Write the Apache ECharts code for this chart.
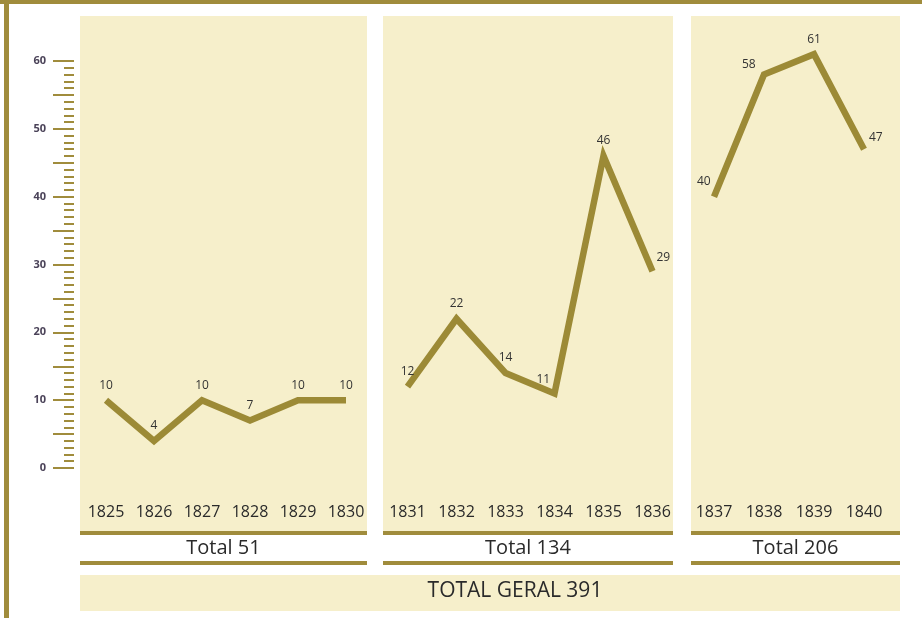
<!DOCTYPE html>
<html><head><meta charset="utf-8">
<script src="https://cdn.jsdelivr.net/npm/echarts@6/dist/echarts.min.js"></script>
<style>html,body{margin:0;padding:0;background:#fff}#c{width:922px;height:618px}</style>
</head><body><div id="c"></div>
<script>
// ---- data ----
const years1 = ['1825','1826','1827','1828','1829','1830'];
const values1 = [10, 4, 10, 7, 10, 10];
const years2 = ['1831','1832','1833','1834','1835','1836'];
const values2 = [12, 22, 14, 11, 46, 29];
const years3 = ['1837','1838','1839','1840'];
const values3 = [40, 58, 61, 47];
const yTicks = [0, 10, 20, 30, 40, 50, 60];

const sum = a => a.reduce((s, v) => s + v, 0);
const t1 = sum(values1), t2 = sum(values2), t3 = sum(values3);

const GOLD = '#a08c3c';
const LINE = '#9c8a36';
const PANEL = '#f6efcb';
const TXT = '#2a2a2a';
const FONT = '"Open Sans",sans-serif';

const panels = [
  {x: 80, w: 287},
  {x: 383, w: 290},
  {x: 691, w: 209}
];
const grids = [
  {left: 82, width: 288},
  {left: 383, width: 294},
  {left: 689, width: 200}
];

// label placement tweaks (style only): null = above the point
const labelPlace = [
  [null, null, null, null, null, null],
  [null, null, null, [-17, -19], null, [5, -19]],
  [[-16, -20], [-21, -15], null, [6, -17]]
];

function mkData(vals, k) {
  return vals.map((v, i) => {
    const p = labelPlace[k][i];
    return p ? {value: v, label: {position: p}} : {value: v};
  });
}

const chart = echarts.init(document.getElementById('c'), null, {renderer: 'canvas'});

const graphic = [];
graphic.push({type: 'rect', shape: {x: 0, y: 0, width: 922, height: 4}, style: {fill: GOLD}, z: 0});
graphic.push({type: 'rect', shape: {x: 4, y: 0, width: 5, height: 618}, style: {fill: GOLD}, z: 0});
panels.forEach(p => {
  graphic.push({type: 'rect', shape: {x: p.x, y: 16, width: p.w, height: 515}, style: {fill: PANEL}, z: -1});
  graphic.push({type: 'rect', shape: {x: p.x, y: 531, width: p.w, height: 4}, style: {fill: GOLD}, z: 0});
  graphic.push({type: 'rect', shape: {x: p.x, y: 561, width: p.w, height: 4}, style: {fill: GOLD}, z: 0});
});
graphic.push({type: 'rect', shape: {x: 80, y: 575, width: 820, height: 36}, style: {fill: PANEL}, z: -1});
const totals = [t1, t2, t3];
panels.forEach((p, i) => {
  graphic.push({type: 'text', x: p.x + p.w / 2, y: 548, style: {text: 'Total ' + totals[i], font: '20px "Open Sans",sans-serif', fill: TXT, textAlign: 'center', textVerticalAlign: 'middle'}, z: 5});
});
graphic.push({type: 'text', x: 515, y: 591, style: {text: 'TOTAL GERAL ' + (t1 + t2 + t3), font: '21px "Open Sans",sans-serif', fill: TXT, textAlign: 'center', textVerticalAlign: 'middle'}, z: 5});

const gridOpts = grids.map(g => ({left: g.left, width: g.width, top: 61, height: 407}));

const xAxes = [years1, years2, years3].map((cats, i) => ({
  type: 'category', gridIndex: i, data: cats, boundaryGap: true,
  axisLine: {show: false}, axisTick: {show: false}, splitLine: {show: false},
  axisLabel: {margin: 36, fontSize: 16, color: TXT, fontFamily: FONT, interval: 0}
}));

const yAxes = [
  {
    type: 'value', gridIndex: 0, min: yTicks[0], max: yTicks[yTicks.length - 1], interval: yTicks[1] - yTicks[0],
    position: 'left', offset: 8,
    axisLine: {show: false},
    axisTick: {show: true, length: 21, lineStyle: {color: GOLD, width: 2}},
    minorTick: {show: true, splitNumber: 10, length: 10, lineStyle: {color: GOLD, width: 2}},
    splitLine: {show: false}, minorSplitLine: {show: false},
    axisLabel: {margin: 28, fontSize: 11, fontWeight: 'bold', color: '#4a4258', fontFamily: '"Open Sans",sans-serif'}
  },
  {
    type: 'value', gridIndex: 0, min: 0, max: 60, interval: 5,
    position: 'left', offset: 8,
    axisLine: {show: false},
    axisTick: {show: true, length: 21, lineStyle: {color: GOLD, width: 2}},
    splitLine: {show: false}, axisLabel: {show: false}
  },
  {type: 'value', gridIndex: 1, min: 0, max: 60, show: false, splitLine: {show: false}},
  {type: 'value', gridIndex: 2, min: 0, max: 60, show: false, splitLine: {show: false}}
];

const seriesList = [values1, values2, values3].map((vals, i) => ({
  type: 'line', xAxisIndex: i, yAxisIndex: i === 0 ? 0 : i + 1,
  data: mkData(vals, i),
  symbol: 'circle', showSymbol: true, symbolSize: 2,
  itemStyle: {color: 'rgba(0,0,0,0)', borderWidth: 0},
  clip: false,
  lineStyle: {color: LINE, width: 6.5, join: 'miter', cap: 'butt'},
  label: {show: true, position: 'top', distance: 8, fontSize: 12, color: '#333', fontFamily: '"Open Sans",sans-serif'},
  labelLayout: {hideOverlap: false},
  animation: false, silent: true
}));

chart.setOption({
  animation: false,
  backgroundColor: '#ffffff',
  grid: gridOpts,
  xAxis: xAxes,
  yAxis: yAxes,
  series: seriesList,
  graphic: graphic
});
</script>
</body></html>
